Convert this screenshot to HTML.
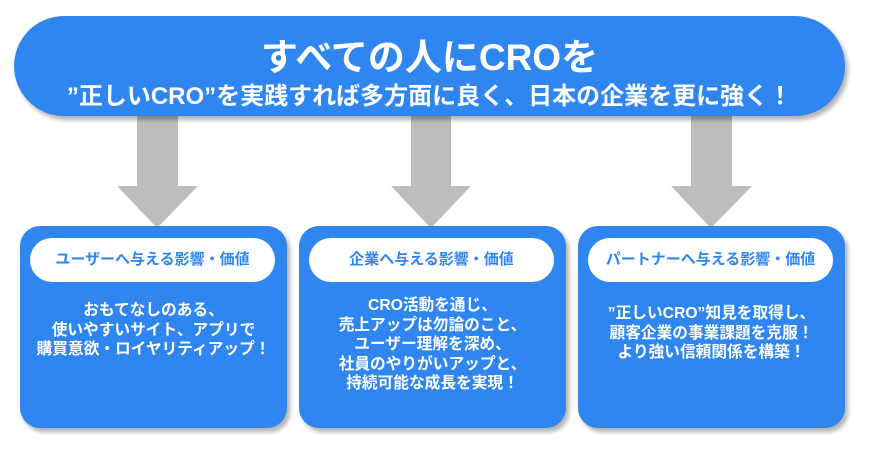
<!DOCTYPE html>
<html><head><meta charset="utf-8"><style>
body{margin:0;width:869px;height:456px;background:#fff;position:relative;overflow:hidden;font-family:"Liberation Sans","Noto Sans CJK JP",sans-serif;font-weight:bold}
.top{position:absolute;left:14px;top:16px;width:831px;height:100px;background:#2f86f0;border-radius:50px;box-shadow:3px 4px 4px rgba(0,0,0,.3);color:#fff;text-align:center}
.t1{position:absolute;left:0;right:0;top:22px;font-size:37px;line-height:40px}
.t2{position:absolute;left:0;right:0;top:67px;font-size:24px;line-height:28px}
.box{position:absolute;top:226px;width:267px;height:202px;background:#2f86f0;border-radius:20px;box-shadow:3px 4px 4px rgba(0,0,0,.3);color:#fff;text-align:center}
.pill{position:absolute;left:10px;right:12px;top:12px;height:44px;background:#fff;border-radius:22px;color:#2f86f0;font-size:15px;line-height:44px}
.txt{position:absolute;left:0;right:0;font-size:15.7px;line-height:19.5px}
</style></head><body>
<svg width="869" height="456" style="position:absolute;left:0;top:0">
<g fill="#bdbdbd">
<polygon points="137,110 178,110 178,186 198,186 157,228 117,186 137,186"/>
<polygon points="411,110 451,110 451,186 471,186 431,228 391,186 411,186"/>
<polygon points="691,110 732,110 732,186 752,186 711,228 671,186 691,186"/>
</g></svg>
<div class="top"><div class="t1">すべての人にCROを</div><div class="t2">”正しいCRO”を実践すれば多方面に良く、日本の企業を更に強く！</div></div>
<div class="box" style="left:20px"><div class="pill">ユーザーへ与える影響・価値</div><div class="txt" style="top:75px">おもてなしのある、<br>使いやすいサイト、アプリで<br>購買意欲・ロイヤリティアップ！</div></div>
<div class="box" style="left:299px"><div class="pill">企業へ与える影響・価値</div><div class="txt" style="top:70px">CRO活動を通じ、<br>売上アップは勿論のこと、<br>ユーザー理解を深め、<br>社員のやりがいアップと、<br>持続可能な成長を実現！</div></div>
<div class="box" style="left:578px"><div class="pill">パートナーへ与える影響・価値</div><div class="txt" style="top:78px">”正しいCRO”知見を取得し、<br>顧客企業の事業課題を克服！<br>より強い信頼関係を構築！</div></div>
</body></html>
